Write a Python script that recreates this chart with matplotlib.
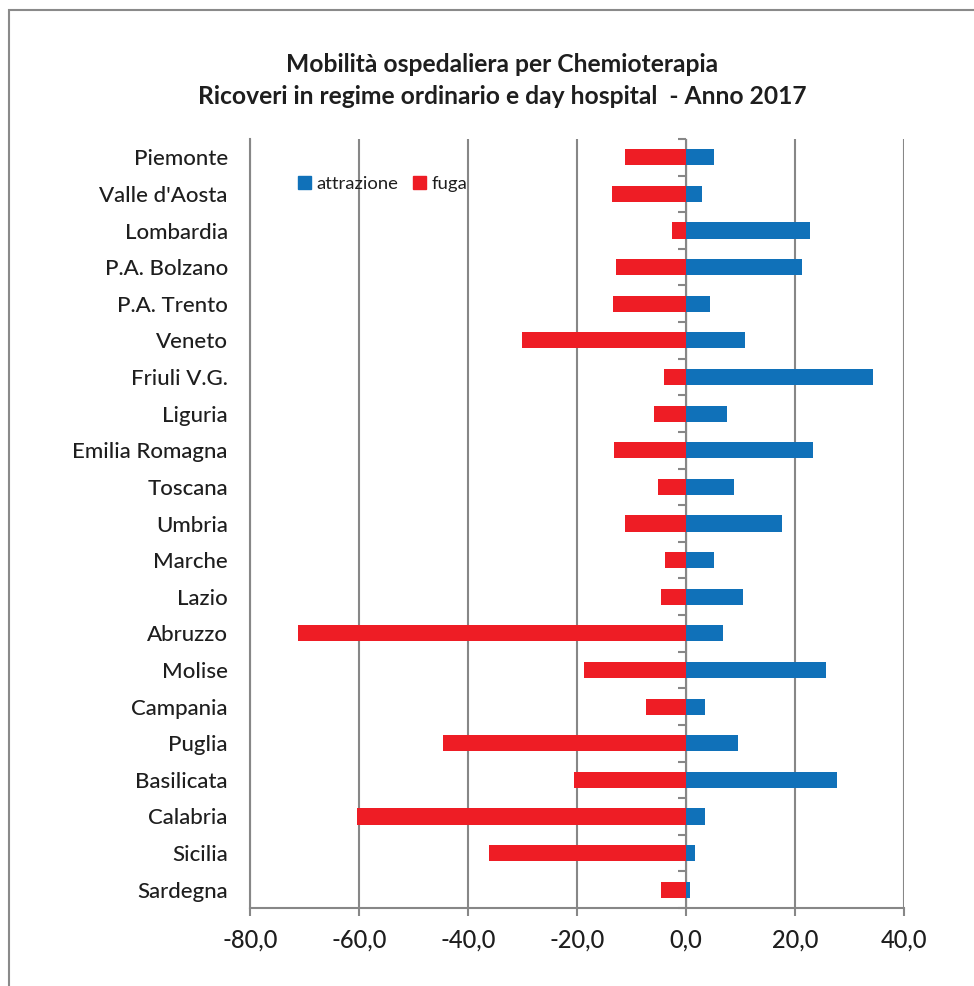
import matplotlib
matplotlib.use("Agg")
import matplotlib.pyplot as plt
from matplotlib.patches import Rectangle, Patch
import numpy as np

plt.rcParams['font.family'] = ['Lato', 'DejaVu Sans']

regioni = ["Piemonte", "Valle d'Aosta", "Lombardia", "P.A. Bolzano", "P.A. Trento",
           "Veneto", "Friuli V.G.", "Liguria", "Emilia Romagna", "Toscana", "Umbria",
           "Marche", "Lazio", "Abruzzo", "Molise", "Campania", "Puglia", "Basilicata",
           "Calabria", "Sicilia", "Sardegna"]
attrazione = [5.1, 2.9, 22.8, 21.3, 4.4, 10.8, 34.3, 7.5, 23.3, 8.8, 17.6,
              5.1, 10.5, 6.8, 25.7, 3.5, 9.5, 27.7, 3.5, 1.7, 0.7]
fuga = [-11.2, -13.6, -2.6, -12.8, -13.4, -30.1, -4.0, -5.9, -13.2, -5.1, -11.2,
        -3.9, -4.6, -71.2, -18.7, -7.3, -44.6, -20.6, -60.4, -36.1, -4.6]
x_ticks = [-80, -60, -40, -20, 0, 20, 40]

BLUE = "#1071b9"
RED = "#ee1d25"
GRID = "#878787"
TEXT = "#1e1e1e"

fig = plt.figure(figsize=(9.74, 9.86), dpi=100)
fig.patches.append(Rectangle((9 / 974, -0.05), 1.2, 1 - 10 / 986 + 0.05,
                             transform=fig.transFigure, fill=False,
                             edgecolor="#8a8a8a", linewidth=1.5, zorder=0))

ax = fig.add_axes([250 / 974, 1 - 908 / 986, (904 - 250) / 974, (908 - 139) / 986])

y = np.arange(len(regioni))
bar_h = 0.44
ax.barh(y, fuga, height=bar_h, color=RED, zorder=3, label="fuga")
ax.barh(y, attrazione, height=bar_h, color=BLUE, zorder=3, label="attrazione")

ax.set_xlim(-80, 40)
ax.set_ylim(len(regioni) - 0.5, -0.5)
ax.set_xticks(x_ticks)
ax.set_xticklabels([f"{v:.1f}".replace(".", ",") for v in x_ticks], fontsize=17,
                   fontweight="medium")
ax.set_yticks(y)
ax.set_yticklabels(regioni, fontsize=16, fontweight="medium")
ax.tick_params(axis="y", length=0, pad=16)
ax.tick_params(axis="x", length=6, width=1.5, color=GRID, pad=9)

ax.grid(axis="x", color=GRID, linewidth=1.5, zorder=1)
for s in ["top", "right"]:
    ax.spines[s].set_visible(False)
ax.spines["left"].set_color(GRID)
ax.spines["left"].set_linewidth(1.5)
ax.spines["bottom"].set_color(GRID)
ax.spines["bottom"].set_linewidth(1.5)

# vertical category axis at zero with tick marks between categories
zero_pos = (0 - (-80)) / (40 - (-80))
sec = ax.secondary_yaxis(zero_pos)
sec.set_yticks(np.arange(len(regioni) + 1) - 0.5)
sec.set_yticklabels([])
sec.tick_params(length=6, width=1.5, color=GRID, direction="in")
sec.spines["left"].set_color(GRID)
sec.spines["left"].set_linewidth(1.5)
sec.spines["left"].set_zorder(5)

handles = [Patch(color=BLUE, label="attrazione"), Patch(color=RED, label="fuga")]
fig.legend(handles=handles, loc="center", bbox_to_anchor=(383 / 974, 1 - 184 / 986),
           ncol=2, frameon=False, fontsize=13.3, handlelength=0.7, handleheight=0.7,
           handletextpad=0.3, columnspacing=0.8, labelcolor=TEXT)

fig.text(502 / 974, 1 - 65 / 986, "Mobilità ospedaliera per Chemioterapia",
         ha="center", va="center", fontsize=17.7, fontweight="bold", color=TEXT)
fig.text(502 / 974, 1 - 97 / 986, "Ricoveri in regime ordinario e day hospital  - Anno 2017",
         ha="center", va="center", fontsize=17.7, fontweight="bold", color=TEXT)

for t in ax.get_xticklabels() + ax.get_yticklabels():
    t.set_color(TEXT)

fig.savefig("out.png", dpi=100)
